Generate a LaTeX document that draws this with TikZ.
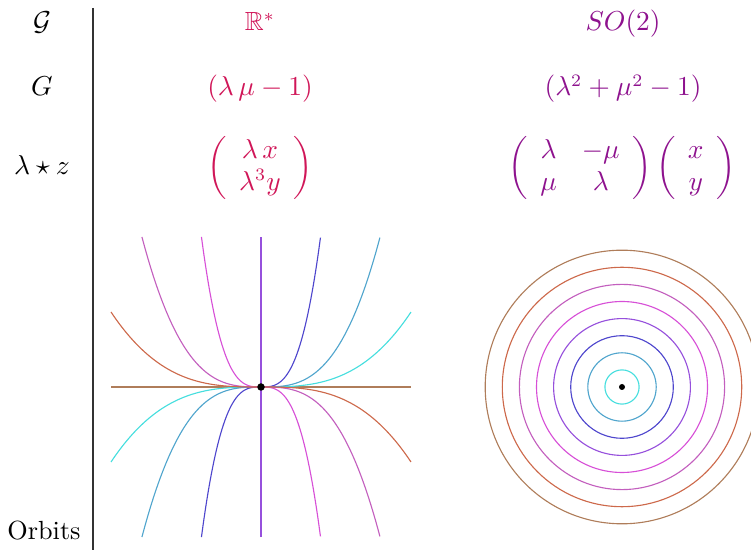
\documentclass[tikz,border=0pt]{standalone}
\usepackage{amsmath,amssymb}
\usepackage{xcolor}
\usepackage{tikz}
\definecolor{orbred}{RGB}{208,22,88}
\definecolor{orbpurple}{RGB}{142,18,142}
\definecolor{orbcyan}{RGB}{70,222,222}
\definecolor{orbteal}{RGB}{80,165,205}
\definecolor{orbblue}{RGB}{78,70,205}
\definecolor{orbviolet}{RGB}{150,80,220}
\definecolor{orbmagenta}{RGB}{215,80,215}
\definecolor{orbpink}{RGB}{195,95,190}
\definecolor{orborange}{RGB}{205,105,75}
\definecolor{orbbrown}{RGB}{175,125,90}
\tikzset{lab/.style={anchor=base,inner sep=0pt},
  orbit/.style={line width=0.45pt}}

\begin{document}
\begin{tikzpicture}[x=0.4pt,y=-0.4pt,font=\fontsize{10.5}{12.6}\selectfont]
\useasboundingbox (0,0) rectangle (751,550);
% ---------------- header column ----------------
\draw[black!80,line width=0.5pt] (93,8) -- (93,552);
\node[lab] (grp)   at (42,31)  {$\mathcal{G}$};
\node[lab] (eqn)   at (42,96)  {$G$};
\node[lab] (act)   at (42,175) {$\lambda\star z$};
\node[lab] (orb)   at (44,540) {Orbits};
% ---------------- R^* column ----------------
\node[lab,orbred] (rgrp) at (260,31)  {$\mathbb{R}^*$};
\node[lab,orbred] (reqn) at (260,96)  {$(\lambda\,\mu-1)$};
\node[lab,orbred] (ract) at (260,175)
  {$\left(\begin{array}{c}\lambda\,x\\ \lambda^3y\end{array}\right)$};
% ---------------- SO(2) column ----------------
\node[lab,orbpurple] (sgrp) at (623,31)  {$SO(2)$};
\node[lab,orbpurple] (seqn) at (623,96)  {$(\lambda^2+\mu^2-1)$};
\node[lab,orbpurple] (sact) at (622,175)
  {$\left(\begin{array}{cc}\lambda & -\mu\\ \mu & \lambda\end{array}\right)
    \left(\begin{array}{c}x\\ y\end{array}\right)$};
% ---------------- orbits of R^*: y = c x^3 ----------------
\begin{scope}[shift={(261,387)},x=60pt,y=60pt]
  \draw[orbit,orbbrown] (-1,0) -- (1,0);
  \draw[orbit,orbviolet] (0,-1) -- (0,1);
  \foreach \c/\u/\col in {0.5/1/orbcyan,2/0.7937/orbteal,16/0.3969/orbblue,
      -16/0.3969/orbmagenta,-2/0.7937/orbpink,-0.5/1/orborange}{
    \draw[orbit,\col,domain=-\u:\u,samples=80,smooth]
      plot (\x,{\c*\x*\x*\x});}
  \fill (0,0) circle (1.5pt);
\end{scope}
% ---------------- orbits of SO(2): circles ----------------
\begin{scope}[shift={(622,387)}]
  \foreach \k/\col in {1/orbcyan,2/orbteal,3/orbblue,4/orbviolet,
      5/orbmagenta,6/orbpink,7/orborange,8/orbbrown}{
    \draw[orbit,\col] (0,0) circle ({\k*6.84pt});}
  \fill (0,0) circle (1.2pt);
\end{scope}
\end{tikzpicture}
\end{document}
